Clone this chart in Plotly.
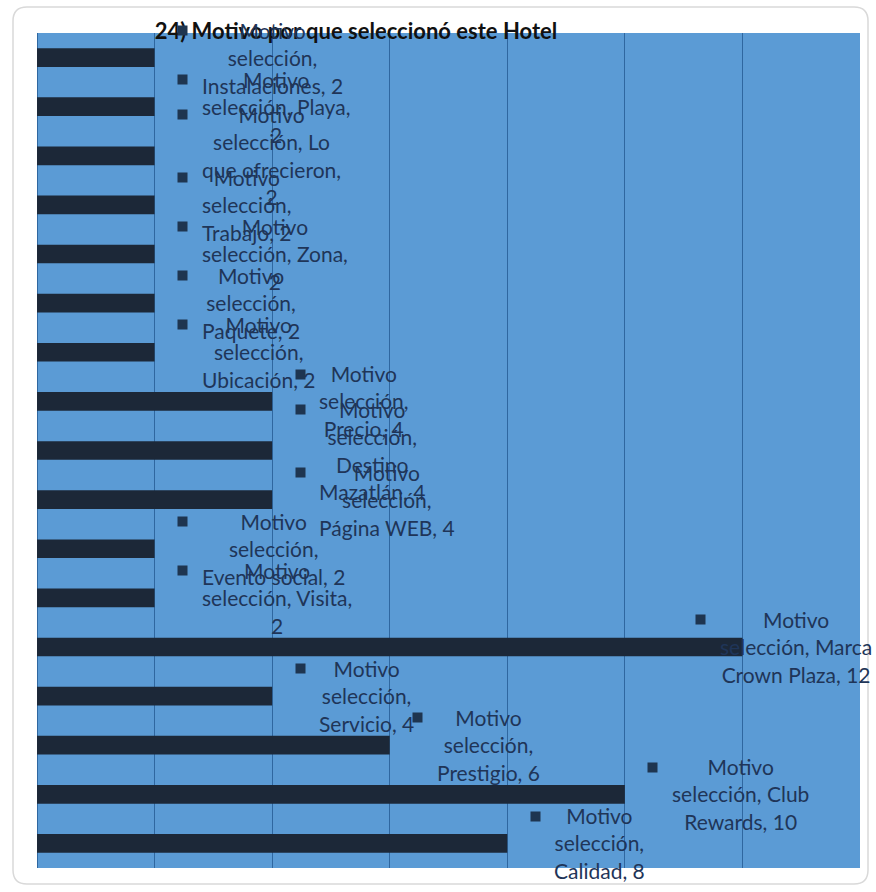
import plotly.graph_objects as go

# ---------------- data ----------------
title_text = "24) Motivo por que seleccionó este Hotel"
series_name = "Motivo selección"
categories = ["Instalaciones", "Playa", "Lo que ofrecieron", "Trabajo", "Zona",
              "Paquete", "Ubicación", "Precio", "Destino Mazatlán", "Página WEB",
              "Evento social", "Visita", "Marca Crown Plaza", "Servicio",
              "Prestigio", "Club Rewards", "Calidad"]
values = [2, 2, 2, 2, 2, 2, 2, 4, 4, 4, 2, 2, 12, 4, 6, 10, 8]
x_tickvals = [0, 2, 4, 6, 8, 10, 12, 14]

# how each data label wraps (as in the original chart)
label_wraps = [
    "Motivo<br>selección,<br>{c}, {v}",
    "Motivo<br>selección, {c},<br>{v}",
    "Motivo<br>selección, Lo<br>que ofrecieron,<br>{v}",
    "Motivo<br>selección,<br>{c}, {v}",
    "Motivo<br>selección, {c},<br>{v}",
    "Motivo<br>selección,<br>{c}, {v}",
    "Motivo<br>selección,<br>{c}, {v}",
    "Motivo<br>selección,<br>{c}, {v}",
    "Motivo<br>selección,<br>Destino<br>Mazatlán, {v}",
    "Motivo<br>selección,<br>{c}, {v}",
    "Motivo<br>selección,<br>{c}, {v}",
    "Motivo<br>selección, {c},<br>{v}",
    "Motivo<br>selección, Marca<br>Crown Plaza, {v}",
    "Motivo<br>selección,<br>{c}, {v}",
    "Motivo<br>selección,<br>{c}, {v}",
    "Motivo<br>selección, Club<br>Rewards, {v}",
    "Motivo<br>selección,<br>{c}, {v}",
]

# ---------------- style ----------------
W, H = 876, 892
ML, MR, MT, MB = 37, 16, 33, 24
PLOT_BG = "#5B9BD5"
BAR_COLOR = "#1C2838"
GRID_COLOR = "#2F67A0"
TEXT_COLOR = "#1F3558"
MARK_COLOR = "#1E3550"
FONT = "Lato"
FS = 21
LINE_H = FS * 1.3
# per-label horizontal adjustments (label pushed left to stay inside chart)
text_shift_default, mark_shift_default = 45, 28
special_shift = {"Marca Crown Plaza": (-24, -42)}

fig = go.Figure()
fig.add_trace(go.Bar(
    x=values, y=categories, orientation="h", name=series_name,
    marker=dict(color=BAR_COLOR, line=dict(width=0)),
    width=0.38, showlegend=False, hoverinfo="x+y",
))

annotations = []
for cat, val, tmpl in zip(categories, values, label_wraps):
    txt = tmpl.format(c=cat, v=val)
    n = txt.count("<br>") + 1
    ts, ms = special_shift.get(cat, (text_shift_default, mark_shift_default))
    annotations.append(dict(
        x=val, y=cat, xref="x", yref="y", text=txt, showarrow=False,
        xanchor="left", yanchor="middle", align="center", xshift=ts,
        font=dict(family=FONT, size=FS, color=TEXT_COLOR),
    ))
    annotations.append(dict(
        x=val, y=cat, xref="x", yref="y", text=" ", showarrow=False,
        xanchor="center", yanchor="middle", xshift=ms,
        yshift=(n - 1) / 2 * LINE_H,
        width=7, height=7, bgcolor=MARK_COLOR, borderpad=1,
        font=dict(size=4),
    ))

# rounded chart border (paper coords computed from pixel frame)
pw, ph = W - ML - MR, H - MT - MB
def px(x):
    return (x - ML) / pw
def py(y):
    return (H - MB - y) / ph
l, r, t, b, rad = 13, 868, 7, 884, 14
path = (f"M {px(l + rad)},{py(t)} L {px(r - rad)},{py(t)} "
        f"Q {px(r)},{py(t)} {px(r)},{py(t + rad)} L {px(r)},{py(b - rad)} "
        f"Q {px(r)},{py(b)} {px(r - rad)},{py(b)} L {px(l + rad)},{py(b)} "
        f"Q {px(l)},{py(b)} {px(l)},{py(b - rad)} L {px(l)},{py(t + rad)} "
        f"Q {px(l)},{py(t)} {px(l + rad)},{py(t)} Z")

fig.update_layout(
    width=W, height=H,
    margin=dict(l=ML, r=MR, t=MT, b=MB, pad=0),
    paper_bgcolor="white", plot_bgcolor=PLOT_BG,
    title=dict(text=f"<b>{title_text}</b>", x=356 / W, xanchor="center",
               y=1 - 31 / H, yanchor="middle",
               font=dict(family=FONT, size=22, color="#111111")),
    xaxis=dict(range=[0, 14], tickvals=x_tickvals, showticklabels=False,
               showgrid=True, gridcolor=GRID_COLOR, gridwidth=1,
               zeroline=True, zerolinecolor=GRID_COLOR, zerolinewidth=1,
               showline=False, ticks=""),
    yaxis=dict(range=[len(categories) - 0.5, -0.5], type="category",
               showticklabels=False, showgrid=False,
               zeroline=False, showline=False, ticks=""),
    annotations=annotations,
    shapes=[dict(type="path", path=path, xref="paper", yref="paper",
                 line=dict(color="#D9D9D9", width=1.5), layer="below")],
    font=dict(family=FONT),
)

fig.write_html("out.html")
